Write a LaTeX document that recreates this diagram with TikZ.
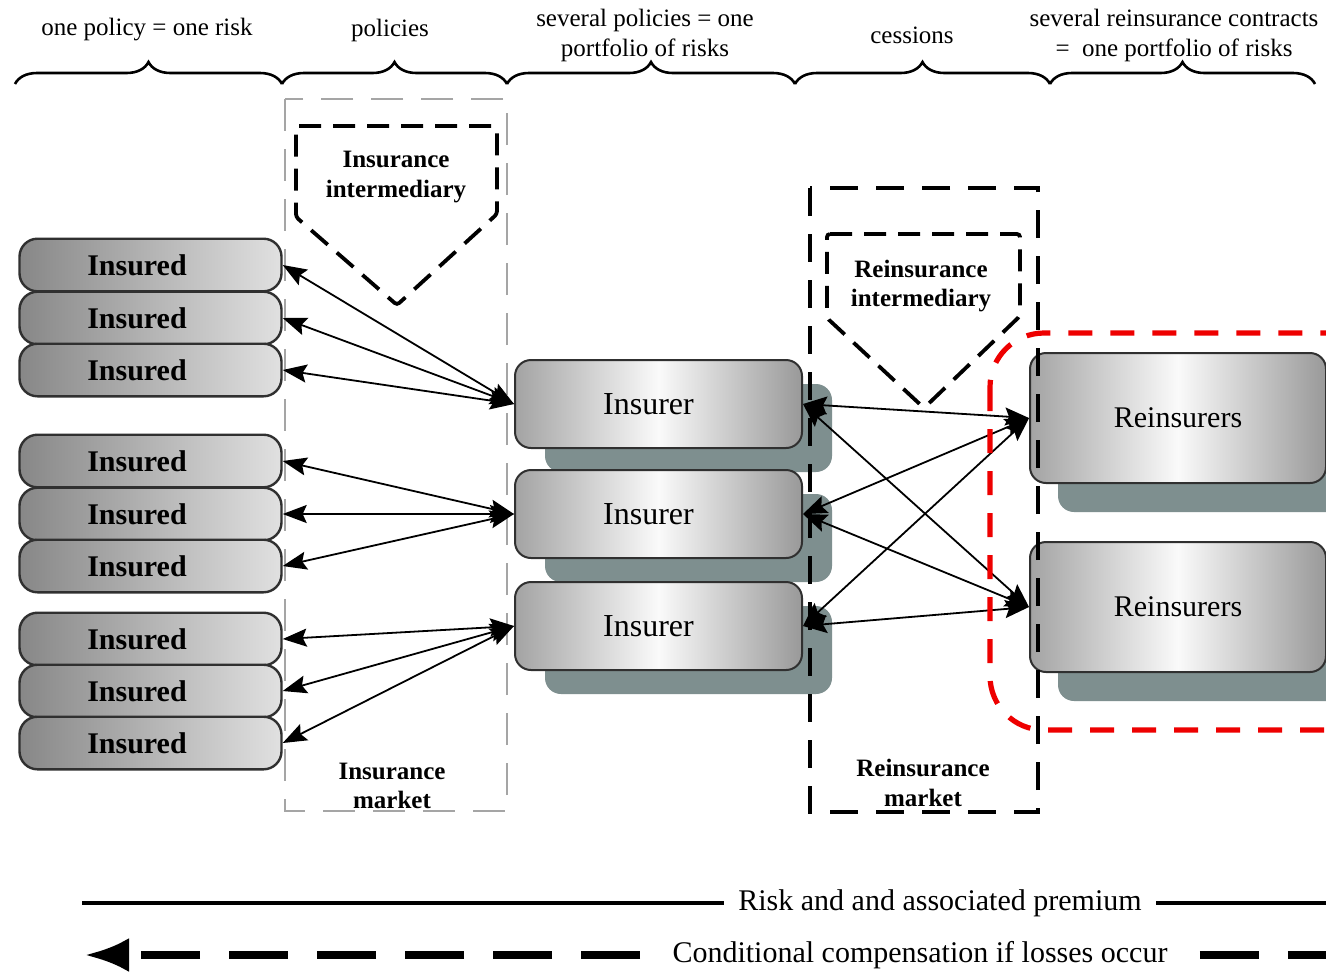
\documentclass[tikz,border=0pt]{standalone}
\usepackage{fontspec}
\setmainfont{Liberation Serif}
\usetikzlibrary{arrows.meta,decorations.pathreplacing,shadows}
\definecolor{shadowteal}{RGB}{126,143,143}
\definecolor{boxedge}{RGB}{48,48,48}
\definecolor{marketgray}{RGB}{165,165,165}
\definecolor{focusred}{RGB}{238,0,0}
\tikzset{
  insured/.style={draw=boxedge, line width=1.2pt, rounded corners=9pt,
    left color=black!47, right color=black!12,
    minimum width=131pt, minimum height=26.3pt, inner sep=0pt,
    font=\fontsize{15}{18}\selectfont\bfseries},
  insurer/.style={draw=boxedge, line width=1pt, rounded corners=8pt,
    left color=black!36, right color=black!40, middle color=black!2,
    minimum width=143.5pt, minimum height=44pt, inner sep=0pt,
    font=\fontsize{16}{19}\selectfont,
    drop shadow={shadow xshift=15pt, shadow yshift=-12pt, opacity=1, fill=shadowteal}},
  reinsurer/.style={draw=boxedge, line width=1pt, rounded corners=8pt,
    left color=black!36, right color=black!40, middle color=black!2,
    minimum width=148pt, minimum height=65pt, inner sep=0pt,
    font=\fontsize{15}{18}\selectfont,
    drop shadow={shadow xshift=14pt, shadow yshift=-14.5pt, opacity=1, fill=shadowteal}},
  toplabel/.style={align=center, inner sep=0pt, font=\fontsize{12.5}{15}\selectfont},
  boldlabel/.style={align=center, inner sep=0pt, font=\fontsize{12.5}{14.7}\selectfont\bfseries},
  legendtext/.style={inner ysep=0pt, font=\fontsize{15}{18}\selectfont},
  topbrace/.style={decorate, decoration={brace, amplitude=11pt}, line width=1.3pt},
  conn/.style={{Stealth[length=12pt,width=9pt,inset=2pt]}-{Stealth[length=12pt,width=9pt,inset=2pt]},
    line width=0.9pt},
  interdash/.style={line width=1.9pt, dash pattern=on 11pt off 6pt, rounded corners=1.5pt},
  reinmarket/.style={line width=1.7pt, dash pattern=on 14pt off 9pt},
  insmarket/.style={draw=marketgray, line width=1.2pt, dash pattern=on 16pt off 9pt},
  focus/.style={draw=focusred, line width=2.6pt, dash pattern=on 12pt off 9pt, rounded corners=27pt},
}
\begin{document}
\begin{tikzpicture}[x=0.5pt, y=0.5pt]
\clip (0,0) rectangle (1326,-971);
\fill[white] (0,0) rectangle (1326,-971);

% ---- braces and column headings ----
\coordinate (b0) at (15,-84);
\coordinate (b1) at (282,-84);
\coordinate (b2) at (507,-84);
\coordinate (b3) at (795,-84);
\coordinate (b4) at (1050,-84);
\coordinate (b5) at (1315,-84);
\draw[topbrace] (b0) -- (b1);
\draw[topbrace] (b1) -- (b2);
\draw[topbrace] (b2) -- (b3);
\draw[topbrace] (b3) -- (b4);
\draw[topbrace] (b4) -- (b5);
\node[toplabel] (h1) at (147,-30) {one policy = one risk};
\node[toplabel] (h2) at (390,-30) {policies};
\node[toplabel] (h3) at (645,-35) {several policies = one\\portfolio of risks};
\node[toplabel] (h4) at (912,-35) {cessions};
\node[toplabel] (h5) at (1174,-35) {several reinsurance contracts\\=\ \ one portfolio of risks};

% ---- policyholders ----
\node[insured] (sd1) at (150.5,-265) {Insured\hspace*{13.5pt}};
\node[insured] (sd2) at (150.5,-318) {Insured\hspace*{13.5pt}};
\node[insured] (sd3) at (150.5,-370) {Insured\hspace*{13.5pt}};
\node[insured] (sd4) at (150.5,-461) {Insured\hspace*{13.5pt}};
\node[insured] (sd5) at (150.5,-514) {Insured\hspace*{13.5pt}};
\node[insured] (sd6) at (150.5,-566) {Insured\hspace*{13.5pt}};
\node[insured] (sd7) at (150.5,-639) {Insured\hspace*{13.5pt}};
\node[insured] (sd8) at (150.5,-691) {Insured\hspace*{13.5pt}};
\node[insured] (sd9) at (150.5,-743) {Insured\hspace*{13.5pt}};

% ---- insurers ----
\node[insurer] (ir1) at (658.5,-404) {Insurer\hspace*{10pt}};
\node[insurer] (ir2) at (658.5,-514) {Insurer\hspace*{10pt}};
\node[insurer] (ir3) at (658.5,-626) {Insurer\hspace*{10pt}};

% ---- reinsurers ----
\node[reinsurer] (re1) at (1178,-418) {Reinsurers};
\node[reinsurer] (re2) at (1178,-607) {Reinsurers};

% ---- markets ----
\draw[insmarket] (285,-99) rectangle (507,-811);
\node[boldlabel] (imkt) at (392,-786) {Insurance\\market};
\draw[reinmarket] (810,-188) rectangle (1038,-812);
\node[boldlabel] (rmkt) at (923,-783) {Reinsurance\\market};

% ---- intermediaries ----
\draw[interdash] (296,-126) -- (497,-126) -- (497,-214) -- (397,-305) -- (296,-217) -- cycle;
\node[boldlabel] (iint) at (396,-177) {Insurance\\intermediary};
\draw[interdash] (827,-234) -- (1020,-234) -- (1020,-316) -- (924,-408) -- (827,-318) -- cycle;
\node[boldlabel] (rint) at (921,-286) {Reinsurance\\intermediary};

% ---- policies ----
\foreach \s in {1,2,3} \draw[conn] (sd\s.east) -- (ir1.west);
\foreach \s in {4,5,6} \draw[conn] (sd\s.east) -- (ir2.west);
\foreach \s in {7,8,9} \draw[conn] (sd\s.east) -- (ir3.west);

% ---- cessions ----
\foreach \i in {1,2,3} {
  \draw[conn] (ir\i.east) -- (re1.west);
  \draw[conn] (ir\i.east) -- (re2.west);
}

% ---- highlighted reinsurance side ----
\draw[focus] (990,-333) rectangle (1420,-730);

% ---- legend ----
\node[legendtext, inner xsep=7pt] (risk) at (940,-903) {Risk and and associated premium};
\coordinate (riskL) at (82,-903);
\coordinate (riskR) at (1340,-903);
\draw[line width=2pt] (riskL) -- (risk.west);
\draw[line width=2pt] (risk.east) -- (riskR);
\node[legendtext, inner xsep=16pt] (cond) at (920,-955) {Conditional compensation if losses occur};
\coordinate (condL) at (85,-955);
\coordinate (condR) at (1340,-955);
\draw[line width=3.6pt, dash pattern=on 29.5pt off 14.5pt, -{Latex[length=22pt,width=17pt]}] (cond.west) -- (condL);
\draw[line width=3.6pt, dash pattern=on 29.5pt off 14.5pt] (cond.east) -- (condR);
\end{tikzpicture}
\end{document}
